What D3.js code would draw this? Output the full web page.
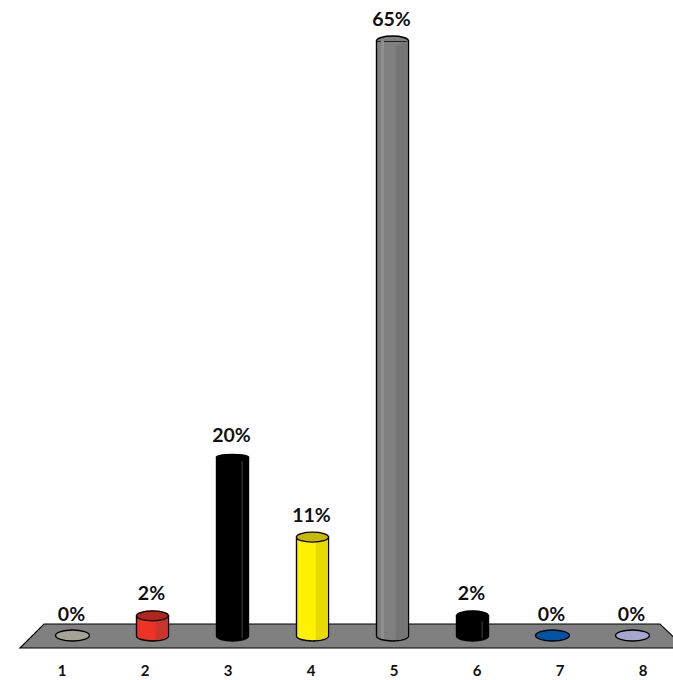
<!DOCTYPE html>
<html>
<head>
<meta charset="utf-8">
<script src="https://cdn.jsdelivr.net/npm/d3@7"></script>
<style>
  html, body { margin: 0; padding: 0; background: #fff; overflow: hidden; }
  svg { display: block; }
  text { font-family: Lato, "Open Sans", sans-serif; font-weight: 700; fill: #111; }
</style>
</head>
<body>
<div id="chart"></div>
<script>
const categories = ['1', '2', '3', '4', '5', '6', '7', '8'];
const values = [0, 2.2, 19.5, 10.8, 65, 2.2, 0, 0];
const bodyColors = ['#a3a398', '#ee3224', '#000000', '#fff200', '#808080', '#000000', '#0054a6', '#a5a5cf'];
const sideColors = ['#a3a398', '#c8352a', '#000000', '#e6da00', '#757575', '#000000', '#0054a6', '#a5a5cf'];
const topColors = ['#a3a398', '#b0261b', '#000000', '#c9b800', '#808080', '#000000', '#0054a6', '#a5a5cf'];

const width = 673;
const height = 680;

const svg = d3.select('#chart')
  .append('svg')
  .attr('width', width)
  .attr('height', height);

// Bars and axis labels do not share the same spacing in the original
const x = d3.scalePoint().domain(categories).range([72.5, 632.5]);
const xLabel = d3.scalePoint().domain(categories).range([62, 643]);
const y = d3.scaleLinear().domain([0, 65]).range([636, 41]);

const barWidth = 32;
const rx = barWidth / 2;
const ry = 5;

// Floor
svg.append('path')
  .attr('d', 'M44,624 L660,624 L685,648 L20,648 Z')
  .attr('fill', '#808080')
  .attr('stroke', '#000')
  .attr('stroke-width', 1.2);

const bars = svg.selectAll('g.bar')
  .data(categories)
  .enter()
  .append('g')
  .attr('class', 'bar')
  .attr('transform', d => `translate(${x(d)}, 0)`);

bars.each(function(d, i) {
  const g = d3.select(this);
  const v = values[i];
  const base = y(0);
  const top = y(v);

  if (v === 0) {
    g.append('ellipse')
      .attr('cy', base - 0.5)
      .attr('rx', rx + 1)
      .attr('ry', 5.5)
      .attr('fill', bodyColors[i])
      .attr('stroke', '#000')
      .attr('stroke-width', 1.4);
    return;
  }

  const r = i === 2 ? 3 : ry;

  // Cylinder body
  g.append('path')
    .attr('d', `M${-rx},${top} L${-rx},${base} A${rx},${ry} 0 0 0 ${rx},${base} L${rx},${top} Z`)
    .attr('fill', bodyColors[i])
    .attr('stroke', '#000')
    .attr('stroke-width', 1.4);

  // Shaded right side of the body
  g.append('path')
    .attr('d', `M${rx * 0.2},${top + r} L${rx * 0.2},${base + ry - 0.8} A${rx},${ry} 0 0 0 ${rx - 0.7},${base} L${rx - 0.7},${top} Z`)
    .attr('fill', sideColors[i]);

  // Thin facet line on the black bars
  if (bodyColors[i] === '#000000') {
    g.append('line')
      .attr('x1', rx * 0.6)
      .attr('x2', rx * 0.6)
      .attr('y1', top + r)
      .attr('y2', base + 2)
      .attr('stroke', '#555')
      .attr('stroke-width', 0.8);
  }

  // Top cap, the grey bar only shows the upper edge
  if (i === 4) {
    g.append('path')
      .attr('d', `M${-rx},${top} A${rx},${r} 0 0 1 ${rx},${top} Z`)
      .attr('fill', topColors[i])
      .attr('stroke', 'none');
    g.append('path')
      .attr('d', `M${-rx},${top} A${rx},${r} 0 0 1 ${rx},${top}`)
      .attr('fill', 'none')
      .attr('stroke', '#000')
      .attr('stroke-width', 1.4);
    g.append('line')
      .attr('x1', -rx + 6)
      .attr('x2', -rx + 6)
      .attr('y1', top)
      .attr('y2', base + 3)
      .attr('stroke', '#8f8f8f')
      .attr('stroke-width', 3);
  } else {
    g.append('ellipse')
      .attr('cy', top)
      .attr('rx', rx)
      .attr('ry', r)
      .attr('fill', topColors[i])
      .attr('stroke', '#000')
      .attr('stroke-width', 1.4);
  }
});

// Value labels
const labelFormat = d3.format('.0f');
bars.append('text')
  .attr('x', -1)
  .attr('y', (d, i) => y(values[i]) - 15.5)
  .attr('text-anchor', 'middle')
  .attr('font-size', 19.5)
  .text((d, i) => `${labelFormat(values[i])}%`);

// Category labels
svg.selectAll('text.cat')
  .data(categories)
  .enter()
  .append('text')
  .attr('class', 'cat')
  .attr('x', d => xLabel(d))
  .attr('y', 676)
  .attr('text-anchor', 'middle')
  .attr('font-size', 15)
  .text(d => d);
</script>
</body>
</html>
